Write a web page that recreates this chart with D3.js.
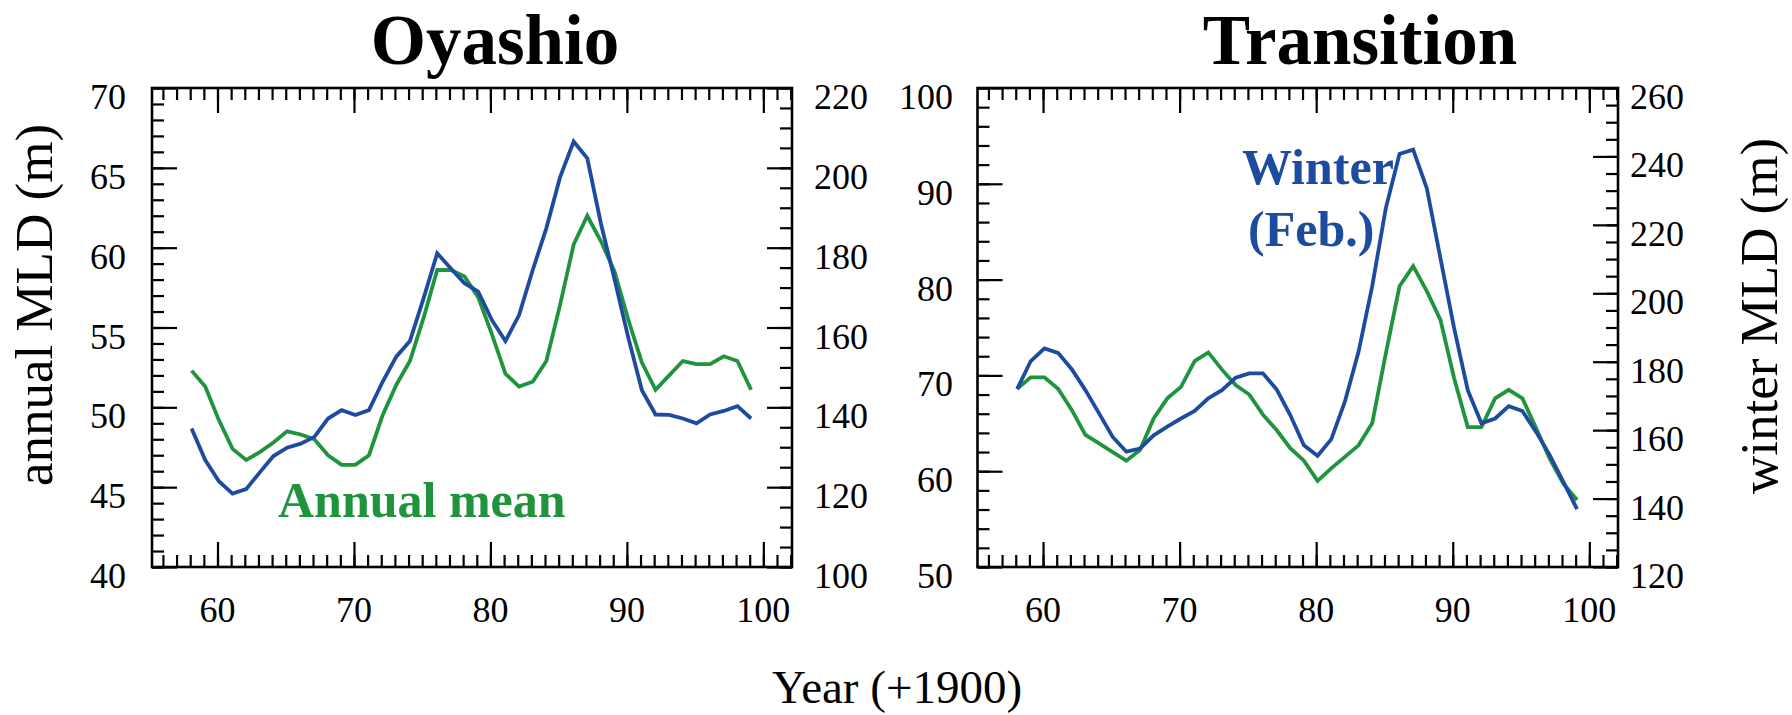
<!DOCTYPE html>
<html>
<head>
<meta charset="utf-8">
<script src="https://cdn.jsdelivr.net/npm/d3@7"></script>
<style>
  html, body { margin: 0; padding: 0; background: #fff; }
  svg { display: block; }
  text { font-family: "Liberation Serif", "Times New Roman", Times, serif; fill: #000; }
</style>
</head>
<body>
<svg id="chart" width="1792" height="715"></svg>
<script>
// ---------------- data ----------------
const years = [58, 59, 60, 61, 62, 63, 64, 65, 66, 67, 68, 69, 70, 71, 72, 73, 74, 75, 76, 77, 78, 79,
               80, 81, 82, 83, 84, 85, 86, 87, 88, 89, 90, 91, 92, 93, 94, 95, 96, 97, 98, 99];

// Oyashio: annual mean MLD (left axis), winter MLD (right axis)
const oyaAnnual = [52.3, 51.3, 49.2, 47.4, 46.7, 47.2, 47.8, 48.5, 48.3, 48.0, 47.0, 46.4, 46.4, 47.0,
                   49.5, 51.4, 52.9, 55.6, 58.6, 58.6, 58.2, 56.9, 54.6, 52.1, 51.3, 51.6, 52.9, 56.4,
                   60.2, 62.0, 60.4, 58.5, 55.5, 52.8, 51.1, 52.0, 52.9, 52.7, 52.7, 53.2, 52.9, 51.1];
const oyaWinter = [134.7, 126.8, 121.5, 118.4, 119.5, 123.7, 127.8, 129.9, 130.9, 132.6, 137.2, 139.3,
                   138.1, 139.3, 146.4, 152.7, 156.6, 167.3, 178.6, 174.8, 171.1, 169.0, 161.9, 156.6,
                   163.1, 174.4, 184.9, 197.6, 206.6, 202.4, 186.0, 172.0, 157.5, 144.3, 138.2, 138.1,
                   137.2, 136.0, 138.2, 139.1, 140.3, 137.2];

// Transition: annual mean MLD (left axis), winter MLD (right axis)
const traAnnual = [68.6, 69.8, 69.8, 68.6, 66.4, 63.8, 62.9, 62.0, 61.1, 62.2, 65.5, 67.6, 68.8, 71.5,
                   72.4, 70.6, 69.0, 68.0, 65.9, 64.3, 62.4, 61.1, 59.0, 60.3, 61.5, 62.7, 65.0, 72.3,
                   79.3, 81.4, 78.8, 75.8, 69.7, 64.6, 64.6, 67.6, 68.5, 67.6, 64.5, 61.3, 58.7, 57.0];
const traWinter = [172.0, 180.2, 183.9, 182.6, 177.8, 171.7, 164.9, 158.0, 153.7, 154.6, 158.5, 161.0,
                   163.4, 165.6, 169.3, 171.7, 175.3, 176.6, 176.6, 171.9, 164.4, 155.6, 152.5, 157.3,
                   168.3, 182.9, 202.0, 224.9, 240.7, 242.0, 230.7, 210.2, 189.8, 171.7, 162.0, 163.4,
                   167.0, 165.6, 159.5, 152.7, 144.9, 136.9];

// axis tick labels
const xTickLabels = [60, 70, 80, 90, 100];
const oyaLeftTicks = [40, 45, 50, 55, 60, 65, 70];
const oyaRightTicks = [100, 120, 140, 160, 180, 200, 220];
const traLeftTicks = [50, 60, 70, 80, 90, 100];
const traRightTicks = [120, 140, 160, 180, 200, 220, 240, 260];

const titles = ["Oyashio", "Transition"];

// ---------------- layout ----------------
const GREEN = "#1f943c";
const BLUE = "#1c4ba0";
const xShift = 0.1;          // data points sit just after the integer year
const xDomain = [55.2, 102.1];
const plotTop = 88, plotBottom = 567;
const majorLen = 25, minorLen = 12;

const svg = d3.select("#chart");

const panels = [
  { x0: 152, x1: 792, title: titles[0], titleX: 495,
    left: { domain: [40, 70], major: oyaLeftTicks, minorStep: 1 },
    right: { domain: [100, 220], major: oyaRightTicks, minorStep: 5 },
    annual: oyaAnnual, winter: oyaWinter, leftLabelGap: 26, rightLabelGap: 22 },
  { x0: 977.5, x1: 1618, title: titles[1], titleX: 1360,
    left: { domain: [50, 100], major: traLeftTicks, minorStep: 2 },
    right: { domain: [120, 260], major: traRightTicks, minorStep: 5 },
    annual: traAnnual, winter: traWinter, leftLabelGap: 24.5, rightLabelGap: 12 }
];

function rangeStep(a, b, s) {
  const out = [];
  for (let v = a; v <= b + 1e-9; v += s) out.push(+v.toFixed(6));
  return out;
}

panels.forEach(p => {
  const g = svg.append("g");
  const x = d3.scaleLinear().domain(xDomain).range([p.x0, p.x1]);
  const yL = d3.scaleLinear().domain(p.left.domain).range([plotBottom, plotTop]);
  const yR = d3.scaleLinear().domain(p.right.domain).range([plotBottom, plotTop]);

  const xMinor = rangeStep(Math.ceil(xDomain[0]), Math.floor(xDomain[1]), 1);
  const xMajor = xTickLabels;

  function tickGroup(axis, transform) {
    const a = g.append("g").attr("transform", transform).call(axis);
    a.select(".domain").remove();
    a.selectAll("line").attr("stroke", "#000").attr("stroke-width", 2.2);
    return a;
  }

  // bottom / top ticks (inward)
  tickGroup(d3.axisBottom(x).tickValues(xMinor).tickSize(-minorLen).tickFormat(""), `translate(0,${plotBottom})`);
  tickGroup(d3.axisBottom(x).tickValues(xMajor).tickSize(-majorLen).tickFormat(""), `translate(0,${plotBottom})`);
  tickGroup(d3.axisTop(x).tickValues(xMinor).tickSize(-minorLen).tickFormat(""), `translate(0,${plotTop})`);
  tickGroup(d3.axisTop(x).tickValues(xMajor).tickSize(-majorLen).tickFormat(""), `translate(0,${plotTop})`);

  // left ticks
  const lMinor = rangeStep(p.left.domain[0], p.left.domain[1], p.left.minorStep);
  tickGroup(d3.axisLeft(yL).tickValues(lMinor).tickSize(-minorLen).tickFormat(""), `translate(${p.x0},0)`);
  tickGroup(d3.axisLeft(yL).tickValues(p.left.major).tickSize(-majorLen).tickFormat(""), `translate(${p.x0},0)`);
  // right ticks
  const rMinor = rangeStep(p.right.domain[0], p.right.domain[1], p.right.minorStep);
  tickGroup(d3.axisRight(yR).tickValues(rMinor).tickSize(-minorLen).tickFormat(""), `translate(${p.x1},0)`);
  tickGroup(d3.axisRight(yR).tickValues(p.right.major).tickSize(-majorLen).tickFormat(""), `translate(${p.x1},0)`);

  // frame
  g.append("rect")
    .attr("x", p.x0).attr("y", plotTop)
    .attr("width", p.x1 - p.x0).attr("height", plotBottom - plotTop)
    .attr("fill", "none").attr("stroke", "#000").attr("stroke-width", 2.6);

  // tick labels
  g.selectAll(".xl").data(xMajor).enter().append("text")
    .attr("x", d => x(d)).attr("y", 622)
    .attr("text-anchor", "middle").attr("font-size", 36).text(d => d);
  g.selectAll(".yl").data(p.left.major).enter().append("text")
    .attr("x", p.x0 - p.leftLabelGap).attr("y", d => yL(d) + 21)
    .attr("text-anchor", "end").attr("font-size", 36).text(d => d);
  g.selectAll(".yr").data(p.right.major).enter().append("text")
    .attr("x", p.x1 + p.rightLabelGap).attr("y", d => yR(d) + 21)
    .attr("text-anchor", "start").attr("font-size", 36).text(d => d);

  // title
  g.append("text").attr("x", p.titleX).attr("y", 64)
    .attr("text-anchor", "middle").attr("font-size", 71).attr("font-weight", "bold")
    .text(p.title);

  // lines
  const clipId = "clip" + Math.round(p.x0);
  g.append("clipPath").attr("id", clipId).append("rect")
    .attr("x", p.x0).attr("y", plotTop).attr("width", p.x1 - p.x0).attr("height", plotBottom - plotTop);

  const lineL = d3.line().x((d, i) => x(years[i] + xShift)).y(d => yL(d));
  const lineR = d3.line().x((d, i) => x(years[i] + xShift)).y(d => yR(d));

  g.append("path").datum(p.annual).attr("d", lineL)
    .attr("fill", "none").attr("stroke", GREEN).attr("stroke-width", 3.8)
    .attr("stroke-linejoin", "miter").attr("clip-path", `url(#${clipId})`);
  g.append("path").datum(p.winter).attr("d", lineR)
    .attr("fill", "none").attr("stroke", BLUE).attr("stroke-width", 3.8)
    .attr("stroke-linejoin", "miter").attr("clip-path", `url(#${clipId})`);
});

// axis titles
svg.append("text")
  .attr("transform", "translate(52,305) rotate(-90)")
  .attr("text-anchor", "middle").attr("font-size", 53)
  .text("annual MLD (m)");
svg.append("text")
  .attr("transform", "translate(1777,316) rotate(-90)")
  .attr("text-anchor", "middle").attr("font-size", 53)
  .text("winter MLD (m)");
svg.append("text")
  .attr("x", 897).attr("y", 703)
  .attr("text-anchor", "middle").attr("font-size", 47)
  .text("Year (+1900)");

// series labels
svg.append("text").attr("x", 278).attr("y", 517)
  .attr("font-size", 50).attr("font-weight", "bold").style("fill", GREEN)
  .text("Annual mean");
svg.append("text").attr("x", 1242).attr("y", 184)
  .attr("font-size", 50).attr("font-weight", "bold").style("fill", BLUE)
  .text("Winter");
svg.append("text").attr("x", 1248).attr("y", 246)
  .attr("font-size", 50).attr("font-weight", "bold").style("fill", BLUE)
  .text("(Feb.)");
</script>
</body>
</html>
